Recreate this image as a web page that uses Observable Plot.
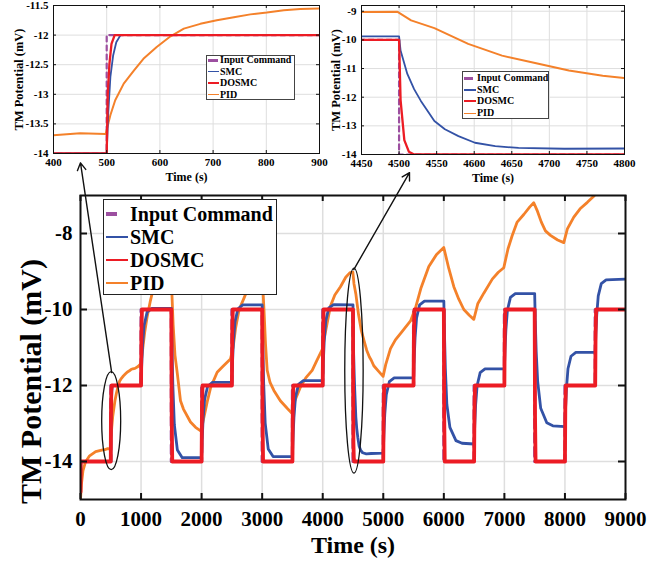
<!DOCTYPE html>
<html><head><meta charset="utf-8">
<script src="https://cdn.jsdelivr.net/npm/d3@7"></script>
<script src="https://cdn.jsdelivr.net/npm/@observablehq/plot@0.6"></script>
<style>
body{margin:0;background:#fff;}
#wrap{position:relative;width:672px;height:566px;overflow:hidden;font-family:"Liberation Serif","Times New Roman",serif;font-weight:bold;color:#000;}
#wrap svg{position:absolute;}
.leg{position:absolute;background:#fff;box-sizing:border-box;}
.row{position:absolute;white-space:nowrap;}
.sw{position:absolute;}
</style></head><body><div id="wrap"></div>
<script>
// ---------------- DATA ----------------
const seriesNames = ["Input Command", "SMC", "DOSMC", "PID"];
const cmdTime  = [0,500,1000,1500,2000,2500,3000,3500,4000,4500,5000,5500,6000,6500,7000,7500,8000,8500,9000];
const cmdLevel = [-14,-12,-10,-14,-12,-10,-14,-12,-10,-14,-12,-10,-14,-12,-10,-14,-12,-10,-10];

const dosmcPts = [
[0,-14.8],[4,-14],
[500,-14],[502,-13.0],[505,-12.5],[509,-12.15],[515,-12],
[1000,-12],[1006,-10.6],[1015,-10],
[1500,-10],[1506,-12.8],[1515,-14],
[2000,-14],[2006,-12.6],[2015,-12],
[2500,-12],[2506,-10.6],[2515,-10],
[3000,-10],[3006,-12.8],[3015,-14],
[3500,-14],[3506,-12.6],[3515,-12],
[4000,-12],[4006,-10.6],[4015,-10],
[4500,-10],[4502,-12.1],[4507,-13.5],[4513,-13.9],[4520,-14],
[5000,-14],[5006,-12.6],[5015,-12],
[5500,-12],[5506,-10.6],[5515,-10],
[6000,-10],[6006,-12.8],[6015,-14],
[6500,-14],[6506,-12.6],[6515,-12],
[7000,-12],[7006,-10.6],[7015,-10],
[7500,-10],[7506,-12.8],[7515,-14],
[8000,-14],[8006,-12.6],[8015,-12],
[8500,-12],[8506,-10.6],[8515,-10],
[9000,-10]
];

const smcPts = [
[0,-14.8],[5,-14],
[500,-14],[503,-13.3],[507,-12.7],[512,-12.35],[518,-12.12],[526,-12.0],
[1000,-12.0],[1010,-11.49],[1025,-10.94],[1050,-10.42],[1100,-10.07],[1180,-9.97],
[1500,-9.97],[1510,-10.95],[1525,-12.01],[1550,-13.04],[1600,-13.70],[1680,-13.9],
[2000,-13.9],[2010,-13.41],[2025,-12.87],[2050,-12.36],[2100,-12.02],[2180,-11.92],
[2500,-11.92],[2510,-11.41],[2525,-10.86],[2550,-10.33],[2600,-9.98],[2680,-9.88],
[3000,-9.88],[3010,-10.88],[3025,-11.95],[3050,-12.99],[3100,-13.67],[3180,-13.87],
[3500,-13.87],[3510,-13.37],[3525,-12.83],[3550,-12.31],[3600,-11.97],[3680,-11.87],
[4000,-11.87],[4010,-11.37],[4025,-10.82],[4050,-10.30],[4100,-9.96],[4180,-9.87],
[4500,-9.88],[4502,-10.37],[4511,-11.19],[4520,-11.72],[4529,-12.13],[4538,-12.48],[4547,-12.83],[4561,-13.12],[4579,-13.36],[4601,-13.59],[4628,-13.71],[4659,-13.77],[4720,-13.8],[4800,-13.79],
[5000,-13.78],[5010,-13.29],[5025,-12.75],[5050,-12.24],[5100,-11.9],[5180,-11.8],
[5500,-11.8],[5510,-11.3],[5525,-10.75],[5550,-10.22],[5600,-9.88],[5680,-9.78],
[6000,-9.78],[6010,-10.6],[6025,-11.55],[6050,-12.5],[6100,-13.1],[6200,-13.45],[6300,-13.52],[6500,-13.54],
[6510,-13.05],[6525,-12.51],[6550,-12.0],[6600,-11.66],[6680,-11.56],
[7000,-11.56],[7010,-11.07],[7025,-10.53],[7050,-10.02],[7100,-9.68],[7180,-9.58],
[7500,-9.58],[7510,-10.3],[7525,-11.1],[7550,-11.9],[7600,-12.6],[7700,-12.98],[7800,-13.06],[8000,-13.08],
[8010,-12.59],[8025,-12.07],[8050,-11.56],[8100,-11.23],[8180,-11.13],
[8500,-11.13],[8510,-10.65],[8525,-10.14],[8550,-9.64],[8600,-9.32],[8680,-9.22],
[9000,-9.2]
];

const pidPts = [
[0,-15],[15,-14.6],[40,-14.25],[80,-14.02],[150,-13.85],[250,-13.74],[350,-13.7],[400,-13.69],[450,-13.66],[498,-13.67],
[507,-13.35],[516,-13.1],[532,-12.82],[551,-12.6],[569,-12.4],[594,-12.2],[620,-12.02],[645,-11.89],[676,-11.81],[707,-11.75],[739,-11.7],[770,-11.65],[801,-11.62],[833,-11.58],[864,-11.56],[900,-11.55],
[950,-11.5],[1000,-11.42],[1030,-11.0],[1060,-10.6],[1100,-10.2],[1150,-9.8],[1210,-9.4],[1300,-9.05],[1400,-8.82],[1470,-8.72],[1500,-9.2],[1530,-10.4],[1560,-11.2],[1600,-11.7],[1651,-12.4],[1700,-12.62],[1816,-12.96],[1900,-13.1],[1990,-13.2],
[2030,-12.9],[2092,-12.43],[2150,-12.05],[2257,-11.65],[2350,-11.5],[2477,-11.3],[2520,-11.0],[2560,-10.5],[2620,-10.0],[2700,-9.7],[2752,-9.5],[2850,-9.2],[2950,-9.0],[2995,-8.95],
[3030,-10.0],[3055,-10.9],[3083,-11.6],[3130,-11.92],[3193,-12.13],[3300,-12.4],[3413,-12.6],[3496,-12.74],
[3540,-12.4],[3633,-12.04],[3720,-11.8],[3826,-11.6],[3900,-11.35],[3993,-11.05],[4050,-10.55],[4128,-9.91],[4200,-9.62],[4293,-9.4],[4380,-9.15],[4450,-9.03],[4498,-9.02],
[4516,-9.32],[4547,-9.59],[4592,-10.14],[4637,-10.55],[4681,-10.81],[4726,-11.07],[4771,-11.25],[4800,-11.33],[4843,-11.48],[4920,-11.62],[4997,-11.76],
[5040,-11.45],[5119,-11.03],[5200,-10.8],[5300,-10.6],[5450,-10.3],[5532,-9.96],[5620,-9.45],[5752,-8.87],[5880,-8.55],[5999,-8.37],
[6082,-8.92],[6165,-9.4],[6247,-9.73],[6330,-10.0],[6420,-10.15],[6495,-10.26],
[6560,-9.85],[6660,-9.57],[6800,-9.2],[6900,-9.02],[6990,-8.9],[7060,-8.4],[7128,-8.06],[7211,-7.7],[7320,-7.5],[7420,-7.3],[7485,-7.19],
[7540,-7.39],[7610,-7.7],[7678,-7.93],[7761,-8.05],[7880,-8.17],[7981,-8.24],
[8040,-7.88],[8146,-7.57],[8250,-7.35],[8370,-7.18],[8475,-7.02],[8560,-6.85],[8700,-6.6]
];

const mainXTicks = [0,1000,2000,3000,4000,5000,6000,7000,8000,9000];
const mainYTicks = [-14,-12,-10,-8];
const in1XTicks = [400,500,600,700,800,900];
const in1YTicks = [-14,-13.5,-13,-12.5,-12,-11.5];
const in2XTicks = [4450,4500,4550,4600,4650,4700,4750,4800];
const in2YTicks = [-14,-13,-12,-11,-10,-9];

// annotation anchors (data units): ellipse centres, arrow start/end
const ellipseCenters = [[515,-12.94],[4524,-11.62]];
const arrowLinks = [[515,-11.66,0,-6.14],[4513,-8.95,5433,-6.40]];

// ---------------- STYLE ----------------
const PURPLE="#9c4fa0", BLUE="#3352a6", RED="#ec1c24", ORANGE="#f4812a", GRID="#dedede";
const FONT='"Liberation Serif","Times New Roman",serif';
const colors = [PURPLE, BLUE, RED, ORANGE];
const fmt = d => String(d);

const cmdPts = cmdTime.map((t,i)=>({t, v:cmdLevel[i]}));
const X = d=>d[0], Y = d=>d[1];
const wrap = document.getElementById("wrap");

// ---------------- MAIN ----------------
const W=672,H=566, mL=80,mR=47,mT=195,mB=67;
const pw=W-mL-mR, ph=H-mT-mB;
const main = Plot.plot({
  width:W, height:H, marginLeft:mL, marginRight:mR, marginTop:mT, marginBottom:mB,
  style:{fontFamily:FONT, fontWeight:"bold", fontSize:"21px", color:"#000", background:"transparent", left:"0px", top:"0px"},
  x:{domain:[0,9000]}, y:{domain:[-15,-7]},
  marks:[
    Plot.gridX(mainXTicks.slice(1,-1), {stroke:GRID, strokeOpacity:1, strokeWidth:1.5}),
    Plot.gridY(mainYTicks, {stroke:GRID, strokeOpacity:1, strokeWidth:1.5}),
    Plot.line(cmdPts, {x:"t", y:"v", curve:"step-after", stroke:PURPLE, strokeWidth:3.2, strokeDasharray:"9,5", clip:true}),
    Plot.line(pidPts, {x:X, y:Y, stroke:ORANGE, strokeWidth:2.8, clip:true}),
    Plot.line(smcPts, {x:X, y:Y, stroke:BLUE, strokeWidth:2.8, clip:true}),
    Plot.line(dosmcPts, {x:X, y:Y, stroke:RED, strokeWidth:3.8, clip:true}),
    Plot.frame({stroke:"#111", strokeWidth:2}),
    Plot.tickX(mainXTicks, {x:d=>d, insetTop:ph-6, stroke:"#111", strokeWidth:2}),
    Plot.tickX(mainXTicks, {x:d=>d, insetBottom:ph-6, stroke:"#111", strokeWidth:2}),
    Plot.tickY(mainYTicks, {y:d=>d, insetRight:pw-7, stroke:"#111", strokeWidth:2}),
    Plot.tickY(mainYTicks, {y:d=>d, insetLeft:pw-7, stroke:"#111", strokeWidth:2}),
    Plot.axisX(mainXTicks, {tickSize:0, tickPadding:12, label:null, fontSize:21, tickFormat:fmt}),
    Plot.axisY(mainYTicks, {tickSize:0, tickPadding:8, label:null, fontSize:21, tickFormat:fmt}),
    Plot.text(["Time (s)"], {frameAnchor:"bottom", textAnchor:"middle", lineAnchor:"middle", dy:46, fontSize:24, fontWeight:"bold"}),
    Plot.text(["TM Potential (mV)"], {frameAnchor:"left", textAnchor:"middle", lineAnchor:"middle", rotate:-90, dx:-49, dy:34, fontSize:30, fontWeight:"bold"}),
    Plot.arrow(arrowLinks, {x1:d=>d[0], y1:d=>d[1], x2:d=>d[2], y2:d=>d[3], stroke:"#111", strokeWidth:1.4, headLength:9})
  ]
});
wrap.appendChild(main);
const sx = main.scale("x"), sy = main.scale("y");
const ellipseSize = [[9.5,49],[9.2,102.5]];
const sel = d3.select(main);
ellipseCenters.forEach((c,i)=>{
  sel.append("ellipse").attr("cx", sx.apply(c[0])).attr("cy", sy.apply(c[1]))
    .attr("rx", ellipseSize[i][0]).attr("ry", ellipseSize[i][1])
    .attr("fill","none").attr("stroke","#111").attr("stroke-width",1.3);
});

// ---------------- INSETS ----------------
function inset(o){
  const h=190, iph=h-o.mT-o.mB, ipw=o.width-o.mL-o.mR;
  const p = Plot.plot({
    width:o.width, height:h, marginLeft:o.mL, marginRight:o.mR, marginTop:o.mT, marginBottom:o.mB,
    style:{fontFamily:FONT, fontWeight:"bold", fontSize:"11px", color:"#000", background:"transparent", left:o.left+"px", top:"0px"},
    x:{domain:o.xd}, y:{domain:o.yd},
    marks:[
      Plot.gridX(o.xt.slice(1,-1), {stroke:GRID, strokeOpacity:1}),
      Plot.gridY(o.yt.filter(v=>v>o.yd[0] && v<o.yd[1]), {stroke:GRID, strokeOpacity:1}),
      Plot.line(cmdPts, {x:"t", y:"v", curve:"step-after", stroke:PURPLE, strokeWidth:2.2, strokeDasharray:"5,4", clip:true}),
      Plot.line(pidPts, {x:X, y:Y, stroke:ORANGE, strokeWidth:2, clip:true}),
      Plot.line(smcPts, {x:X, y:Y, stroke:BLUE, strokeWidth:1.8, clip:true}),
      Plot.line(dosmcPts, {x:X, y:Y, stroke:RED, strokeWidth:2.3, clip:true}),
      Plot.frame({stroke:"#111", strokeWidth:1}),
      Plot.tickX(o.xt, {x:d=>d, insetTop:iph-3, stroke:"#111"}),
      Plot.tickX(o.xt, {x:d=>d, insetBottom:iph-3, stroke:"#111"}),
      Plot.tickY(o.yt, {y:d=>d, insetRight:ipw-3, stroke:"#111"}),
      Plot.tickY(o.yt, {y:d=>d, insetLeft:ipw-3, stroke:"#111"}),
      Plot.axisX(o.xt, {tickSize:0, tickPadding:5, label:null, fontSize:11, tickFormat:fmt}),
      Plot.axisY(o.yt, {tickSize:0, tickPadding:5, label:null, fontSize:11, tickFormat:fmt}),
      Plot.text(["Time (s)"], {frameAnchor:"bottom", textAnchor:"middle", lineAnchor:"middle", dy:24, fontSize:12, fontWeight:"bold"}),
      Plot.text(["TM Potential (mV)"], {frameAnchor:"left", textAnchor:"middle", lineAnchor:"middle", rotate:-90, dx:o.ylx, fontSize:12.5, fontWeight:"bold"})
    ]
  });
  wrap.appendChild(p);
}
inset({left:0, width:336, mL:53, mR:17, mT:5, mB:37, xd:[400,900], yd:[-14,-11.5], xt:in1XTicks, yt:in1YTicks, ylx:-35});
inset({left:310, width:362, mL:51, mR:48, mT:5, mB:36, xd:[4450,4800], yd:[-14,-8.8], xt:in2XTicks, yt:in2YTicks, ylx:-26});

// ---------------- LEGENDS ----------------
function legend(o){
  const box=document.createElement("div");
  box.className="leg";
  Object.assign(box.style,{left:o.left+"px",top:o.top+"px",width:o.w+"px",height:o.h+"px",border:o.border});
  seriesNames.forEach((name,i)=>{
    const cy=o.rows[i];
    const sw=document.createElement("div"); sw.className="sw";
    const isCmd = i===0;
    const th = isCmd? o.pth : o.lth;
    const len = isCmd? o.plen : o.slen;
    Object.assign(sw.style,{left:o.swx+"px",top:(cy-th/2)+"px",width:len+"px",height:th+"px",background:colors[i]});
    box.appendChild(sw);
    const t=document.createElement("div"); t.className="row"; t.textContent=name;
    const lh=o.fs*1.2;
    Object.assign(t.style,{left:o.tx+"px",top:(cy-lh/2)+"px",fontSize:o.fs+"px",lineHeight:lh+"px"});
    box.appendChild(t);
  });
  wrap.appendChild(box);
}
legend({left:103,top:199,w:174,h:96,border:"1.5px solid #222",rows:[14,37,60,83],swx:2,plen:11,pth:4,slen:22,lth:2,tx:26,fs:20});
legend({left:206,top:55,w:89,h:45,border:"1px solid #444",rows:[4,15.5,27,38.5],swx:0.5,plen:10,pth:3,slen:11,lth:1.5,tx:13,fs:10});
legend({left:462,top:71,w:87,h:48,border:"1px solid #444",rows:[6.3,17.8,29,41.3],swx:1,plen:9,pth:3,slen:12,lth:1.5,tx:14,fs:10});
</script></body></html>
